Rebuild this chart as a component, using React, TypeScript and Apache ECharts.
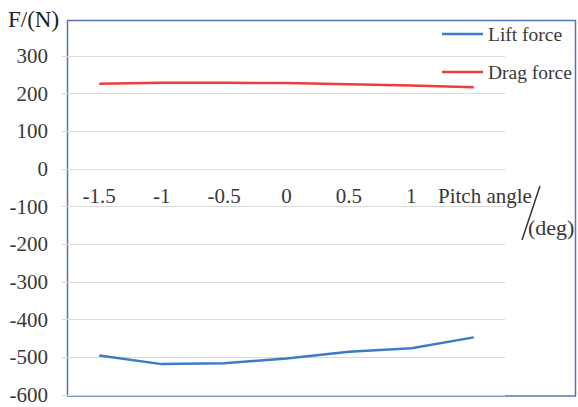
import React, { useEffect, useRef } from "react";
import * as echarts from "echarts";

const pitchAngles = ["-1.5", "-1", "-0.5", "0", "0.5", "1", "1.5"];
const liftForce = [-495, -518, -516, -503, -485, -476, -447];
const dragForce = [226, 229, 229, 228, 225, 222, 217];
const seriesNames = ["Lift force", "Drag force"];

const FONT = "Liberation Serif";
const TEXT = "#383838";
const GRID = "#d9d9d9";

const GRID_TOP = 56;
const ZERO_Y = 169;

export default function App() {
  const ref = useRef<HTMLDivElement>(null);
  useEffect(() => {
    if (!ref.current) return;
    const chart = echarts.init(ref.current, null, { renderer: "svg" });
    const labelRich = { a: { fontFamily: FONT, fontSize: 21, color: TEXT } };
    chart.setOption({
      animation: false,
      backgroundColor: "#ffffff",
      textStyle: { fontFamily: FONT },
      grid: {
        left: 68,
        right: 73,
        top: GRID_TOP,
        bottom: 12,
        containLabel: false,
        outerBoundsMode: "none",
      },
      legend: {
        orient: "vertical",
        left: 437,
        top: 19,
        icon: "rect",
        itemWidth: 41,
        itemHeight: 2.5,
        itemGap: 18,
        data: seriesNames,
        textStyle: { fontFamily: FONT, fontSize: 19.5, color: TEXT },
      },
      xAxis: {
        type: "category",
        data: pitchAngles,
        boundaryGap: true,
        position: "top",
        offset: GRID_TOP - ZERO_Y,
        axisLine: { show: true, onZero: false, lineStyle: { color: GRID, width: 1 } },
        axisTick: { alignWithLabel: true, length: 4, inside: true, interval: 0, lineStyle: { color: GRID } },
        axisLabel: {
          inside: true,
          interval: 0,
          hideOverlap: false,
          margin: 16,
          fontFamily: FONT,
          fontSize: 21,
          color: TEXT,
          rich: labelRich,
          formatter: (v: string, i: number) => (i === pitchAngles.length - 1 ? "" : `{a|${v}}`),
        },
        splitLine: { show: false },
      },
      yAxis: {
        type: "value",
        min: -600,
        max: 300,
        interval: 100,
        axisLine: { show: false },
        axisTick: { show: true, length: 6, lineStyle: { color: GRID } },
        axisLabel: {
          margin: 20,
          fontFamily: FONT,
          fontSize: 21,
          color: TEXT,
          rich: labelRich,
          formatter: (v: number) => `{a|${v}}`,
        },
        splitLine: { lineStyle: { color: GRID, width: 1 } },
      },
      series: [
        {
          name: seriesNames[0],
          type: "line",
          data: liftForce,
          symbol: "none",
          lineStyle: { color: "#3b7bc8", width: 2.5 },
          itemStyle: { color: "#3b7bc8" },
        },
        {
          name: seriesNames[1],
          type: "line",
          data: dragForce,
          symbol: "none",
          lineStyle: { color: "#ee3b3b", width: 2.5 },
          itemStyle: { color: "#ee3b3b" },
        },
      ],
      graphic: [
        {
          type: "rect",
          shape: { x: 67.5, y: 20.5, width: 508, height: 375.5 },
          style: { fill: "none", stroke: "#5474b8", lineWidth: 1.5 },
          silent: true,
        },
        {
          type: "text",
          style: { x: 8, y: 19, verticalAlign: "middle", text: "F/(N)", fontFamily: FONT, fontSize: 23, fill: "#222" },
        },
        {
          type: "text",
          style: { x: 438, y: 196, verticalAlign: "middle", text: "Pitch angle", fontFamily: FONT, fontSize: 21, fill: TEXT },
        },
        {
          type: "line",
          shape: { x1: 540, y1: 186, x2: 522, y2: 240 },
          style: { stroke: "#333", lineWidth: 1.5 },
        },
        {
          type: "text",
          style: { x: 528, y: 227, verticalAlign: "middle", text: "(deg)", fontFamily: FONT, fontSize: 22, fill: TEXT },
        },
      ],
    });
    return () => chart.dispose();
  }, []);
  return <div ref={ref} style={{ width: 578, height: 407, position: "absolute", left: 0, top: 0 }} />;
}
